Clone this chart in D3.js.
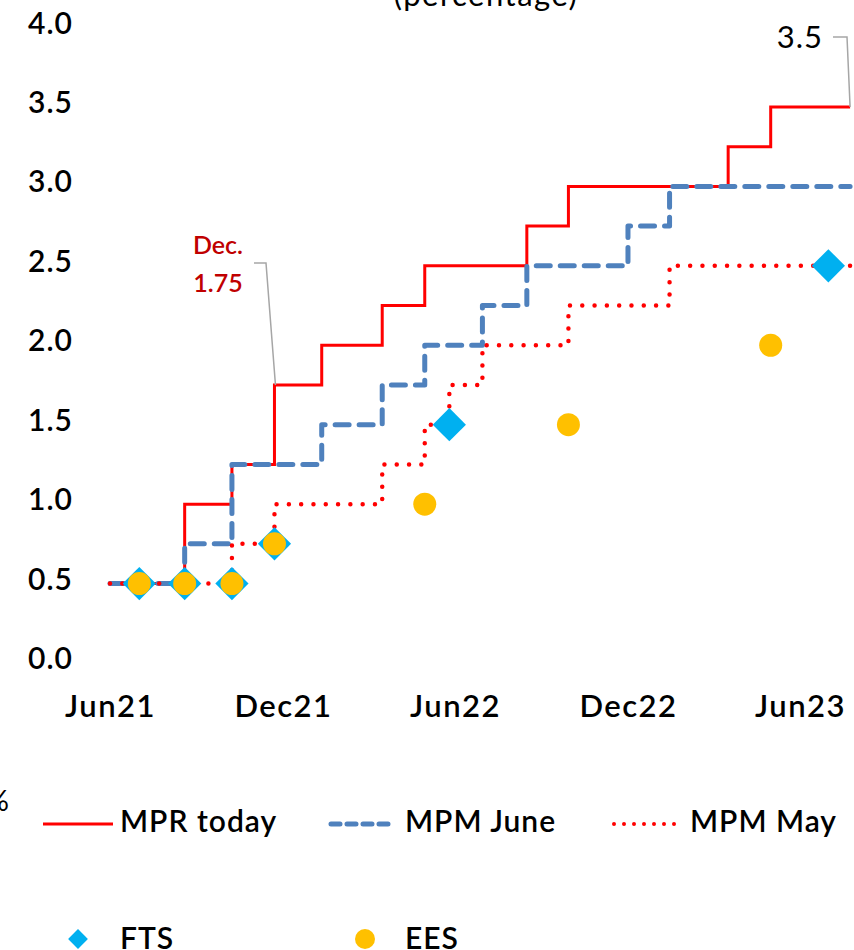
<!DOCTYPE html>
<html>
<head>
<meta charset="utf-8">
<script src="https://cdn.jsdelivr.net/npm/d3@7"></script>
<style>
  body { margin: 0; background: #fff; }
  text { font-family: Lato, "Noto Sans", sans-serif; fill: #000; }
</style>
</head>
<body>
<script>
const W = 854;
const H = 950;

// step series: [date, value]
const mprToday = [
  ["2021-06-01", 0.5], ["2021-08-19", 1.0], ["2021-10-08", 1.25], ["2021-11-22", 1.75],
  ["2022-01-11", 2.0], ["2022-03-16", 2.25], ["2022-04-30", 2.5], ["2022-08-16", 2.75],
  ["2022-09-29", 3.0], ["2023-03-17", 3.25], ["2023-05-01", 3.5], ["2023-07-24", 3.5]
];
const mpmJune = [
  ["2021-06-01", 0.5], ["2021-08-19", 0.75], ["2021-10-08", 1.25], ["2022-01-11", 1.5],
  ["2022-03-16", 1.75], ["2022-04-30", 2.0], ["2022-06-30", 2.25], ["2022-08-16", 2.5],
  ["2022-12-01", 2.75], ["2023-01-14", 3.0], ["2023-07-24", 3.0]
];
const mpmMay = [
  ["2021-06-01", 0.5], ["2021-10-08", 0.75], ["2021-11-22", 1.0], ["2022-03-16", 1.25],
  ["2022-04-30", 1.5], ["2022-05-26", 1.75], ["2022-06-30", 2.0], ["2022-09-29", 2.25],
  ["2023-01-14", 2.5], ["2023-07-24", 2.5]
];
// survey points
const fts = [
  ["2021-07-02", 0.5], ["2021-08-19", 0.5], ["2021-10-08", 0.5], ["2021-11-22", 0.75],
  ["2022-05-26", 1.5], ["2023-07-01", 2.5]
];
const ees = [
  ["2021-07-02", 0.5], ["2021-08-19", 0.5], ["2021-10-08", 0.5], ["2021-11-22", 0.75],
  ["2022-04-30", 1.0], ["2022-09-29", 1.5], ["2023-05-01", 2.0]
];

const xTicks = ["2021-06-01", "2021-12-01", "2022-06-01", "2022-12-01", "2023-06-01"];
const yTicks = [0, 0.5, 1, 1.5, 2, 2.5, 3, 3.5, 4];

const parse = d3.utcParse("%Y-%m-%d");

const svg = d3.select("body").append("svg")
  .attr("width", W)
  .attr("height", H);

const x = d3.scaleUtc()
  .domain([parse("2021-06-01"), parse("2023-06-01")])
  .range([110, 800]);

const y = d3.scaleLinear()
  .domain([0, 4])
  .range([663, 27.5]);

// axes
const yAxis = svg.append("g")
  .attr("transform", "translate(73,-4)")
  .call(d3.axisLeft(y).tickValues(yTicks).tickFormat(d3.format(".1f")).tickSize(0).tickPadding(0));
yAxis.select(".domain").remove();
yAxis.selectAll("text")
  .attr("font-size", 30)
  .attr("font-weight", 600)
  .attr("letter-spacing", 1)
  .attr("font-family", "Lato, sans-serif")
  .attr("fill", "#000");

const xAxis = svg.append("g")
  .attr("transform", "translate(0,695)")
  .call(d3.axisBottom(x).tickValues(xTicks.map(parse)).tickFormat(d3.utcFormat("%b%y")).tickSize(0).tickPadding(0));
xAxis.select(".domain").remove();
xAxis.selectAll("text")
  .attr("font-size", 31)
  .attr("font-weight", 600)
  .attr("letter-spacing", 1.5)
  .attr("font-family", "Lato, sans-serif")
  .attr("fill", "#000");

// title (cut off at top)
svg.append("text")
  .attr("x", 486)
  .attr("y", 6)
  .attr("text-anchor", "middle")
  .attr("font-size", 31)
  .attr("letter-spacing", 1.5)
  .text("(percentage)");

const line = d3.line()
  .x(d => x(parse(d[0])))
  .y(d => y(d[1]))
  .curve(d3.curveStepAfter);

svg.append("path")
  .datum(mprToday)
  .attr("d", line)
  .attr("fill", "none")
  .attr("stroke", "#ff0000")
  .attr("stroke-width", 3);

svg.append("path")
  .datum(mpmJune)
  .attr("d", line)
  .attr("fill", "none")
  .attr("stroke", "#4f81bd")
  .attr("stroke-width", 5)
  .attr("stroke-linecap", "round")
  .attr("stroke-linejoin", "round")
  .attr("stroke-dasharray", "14 10");

svg.append("path")
  .datum(mpmMay)
  .attr("d", line)
  .attr("fill", "none")
  .attr("stroke", "#ff0000")
  .attr("stroke-width", 4.5)
  .attr("stroke-linecap", "round")
  .attr("stroke-dasharray", "0 12.3");

const diamond = d3.symbol().type(d3.symbolSquare).size(23.5 * 23.5);

svg.selectAll(".fts")
  .data(fts)
  .enter()
  .append("path")
  .attr("class", "fts")
  .attr("d", diamond)
  .attr("transform", d => `translate(${x(parse(d[0]))},${y(d[1])}) rotate(45)`)
  .attr("fill", "#00b0f0");

svg.selectAll(".ees")
  .data(ees)
  .enter()
  .append("circle")
  .attr("class", "ees")
  .attr("cx", d => x(parse(d[0])))
  .attr("cy", d => y(d[1]))
  .attr("r", 11.5)
  .attr("fill", "#ffc000");

// annotations
const lastMpr = mprToday[mprToday.length - 1];
svg.append("polyline")
  .attr("points", `833,37 847,37 ${x(parse(lastMpr[0]))},${y(lastMpr[1])}`)
  .attr("fill", "none")
  .attr("stroke", "#a6a6a6")
  .attr("stroke-width", 1.5);
svg.append("text")
  .attr("x", 823)
  .attr("y", 48)
  .attr("text-anchor", "end")
  .attr("font-size", 31)
  .attr("letter-spacing", 1)
  .text("3.5");

const decPoint = mprToday[3];
svg.append("polyline")
  .attr("points", `254,263 266,263 ${x(parse(decPoint[0])) + 1},${y(decPoint[1])}`)
  .attr("fill", "none")
  .attr("stroke", "#a6a6a6")
  .attr("stroke-width", 1.5);
svg.append("text")
  .attr("x", 218)
  .attr("y", 254)
  .attr("text-anchor", "middle")
  .attr("font-size", 25)
  .attr("font-weight", 600)
  .style("fill", "#c00000")
  .text("Dec.");
svg.append("text")
  .attr("x", 218)
  .attr("y", 292)
  .attr("text-anchor", "middle")
  .attr("font-size", 25)
  .attr("font-weight", 600)
  .style("fill", "#c00000")
  .text("1.75");

// stray unit label at the left edge
svg.append("text")
  .attr("x", 9)
  .attr("y", 811)
  .attr("text-anchor", "end")
  .attr("font-size", 29)
  .text("%");

// legend
const legendLines = [
  { label: "MPR today", x0: 43, x1: 113, tx: 120, stroke: "#ff0000", width: 3, dash: null, cap: "butt" },
  { label: "MPM June", x0: 331, x1: 392, tx: 405, stroke: "#4f81bd", width: 5, dash: "9 7", cap: "round" },
  { label: "MPM May", x0: 614, x1: 682, tx: 690, stroke: "#ff0000", width: 4, dash: "0 10", cap: "round" }
];
const lg = svg.append("g");
legendLines.forEach(d => {
  lg.append("line")
    .attr("x1", d.x0).attr("x2", d.x1)
    .attr("y1", 824).attr("y2", 824)
    .attr("stroke", d.stroke)
    .attr("stroke-width", d.width)
    .attr("stroke-linecap", d.cap)
    .attr("stroke-dasharray", d.dash);
  lg.append("text")
    .attr("x", d.tx)
    .attr("y", 832)
    .attr("font-size", 30)
    .attr("font-weight", 600)
    .attr("letter-spacing", 1)
    .text(d.label);
});

lg.append("path")
  .attr("d", d3.symbol().type(d3.symbolSquare).size(14 * 14))
  .attr("transform", "translate(78,939) rotate(45)")
  .attr("fill", "#00b0f0");
lg.append("text")
  .attr("x", 120).attr("y", 949)
  .attr("font-size", 30)
  .attr("font-weight", 600)
  .attr("letter-spacing", 1)
  .text("FTS");
lg.append("circle")
  .attr("cx", 365).attr("cy", 939)
  .attr("r", 10)
  .attr("fill", "#ffc000");
lg.append("text")
  .attr("x", 405).attr("y", 949)
  .attr("font-size", 30)
  .attr("font-weight", 600)
  .attr("letter-spacing", 1)
  .text("EES");
</script>
</body>
</html>
